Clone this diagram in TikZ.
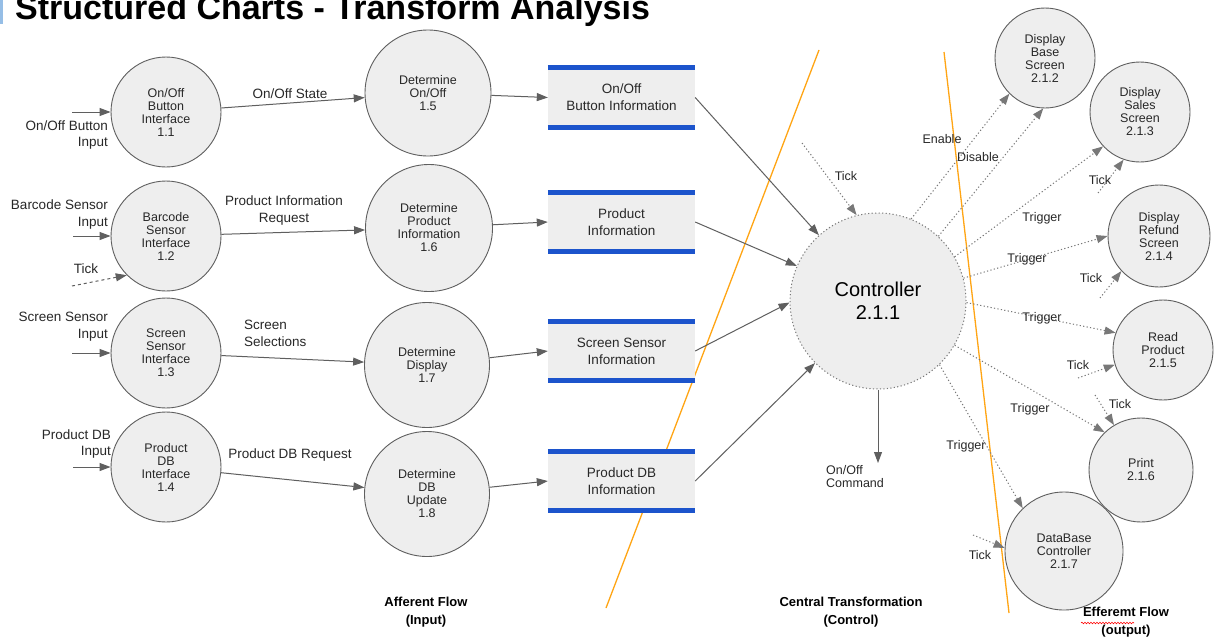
\documentclass[tikz,border=0pt]{standalone}
\usepackage{fontspec}
\setmainfont{Liberation Sans}
\usetikzlibrary{arrows.meta,decorations.pathmorphing}
\definecolor{linegray}{RGB}{95,95,95}
\definecolor{dotgray}{RGB}{120,120,120}
\definecolor{fillgray}{RGB}{238,238,238}
\definecolor{txt}{RGB}{40,40,40}
\definecolor{storeblue}{RGB}{28,84,204}
\definecolor{orangeline}{RGB}{255,165,20}
\definecolor{barblue}{RGB}{150,190,230}
\tikzset{
 proc/.style={circle, draw=linegray, fill=fillgray, line width=0.9pt, inner sep=0pt, align=center, font=\fontsize{12.5}{13}\selectfont, text=txt},
 storebox/.style={rectangle, fill=fillgray, minimum width=147pt, minimum height=59pt, inner sep=0pt, align=center, font=\fontsize{13.5}{17}\selectfont, text=txt},
 storeline/.style={line width=5pt, draw=storeblue},
 flow/.style={draw=linegray, line width=1pt, -{Triangle[length=11pt,width=8pt]}},
 ctl/.style={draw=dotgray, line width=1pt, dash pattern=on 1.2pt off 2.3pt, -{Triangle[length=11pt,width=8pt]}},
 lbl/.style={font=\fontsize{13.5}{16.5}\selectfont, text=txt, inner sep=0pt},
 slbl/.style={font=\fontsize{12.5}{13}\selectfont, text=txt, inner sep=0pt},
 hdr/.style={font=\bfseries\fontsize{13}{18}\selectfont, align=center, inner sep=0pt, text=black},
 border/.style={draw=orangeline, line width=1.3pt}
}
\begin{document}
\begin{tikzpicture}[x=1pt,y=-1pt]
\useasboundingbox (0,0) rectangle (1214,637);
\clip (0,0) rectangle (1214,637);
\fill[white] (0,0) rectangle (1214,637);
% title
\fill[barblue] (0,0) rectangle (2.5,24);
\node[anchor=base west, inner sep=0pt, font=\bfseries\fontsize{34}{40}\selectfont] (title) at (15,19) {Structured Charts - Transform Analysis};

% orange boundaries
\coordinate (o1a) at (819,50); \coordinate (o1b) at (606,608);
\coordinate (o2a) at (944,52); \coordinate (o2b) at (1009,613);
\draw[border] (o1a) -- (o1b);
\draw[border] (o2a) -- (o2b);

% afferent processes
\node[proc, minimum size=110pt] (n11) at (166,112) {On/Off\\Button\\Interface\\1.1};
\node[proc, minimum size=110pt] (n12) at (166,236) {Barcode\\Sensor\\Interface\\1.2};
\node[proc, minimum size=110pt] (n13) at (166,353) {Screen\\Sensor\\Interface\\1.3};
\node[proc, minimum size=110pt] (n14) at (166,467) {Product\\DB\\Interface\\1.4};
\node[proc, minimum size=126pt] (n15) at (428,93) {Determine\\On/Off\\1.5};
\node[proc, minimum size=127pt] (n16) at (429,228) {Determine\\Product\\Information\\1.6};
\node[proc, minimum size=125pt] (n17) at (427,365) {Determine\\Display\\1.7};
\node[proc, minimum size=125pt] (n18) at (427,494) {Determine\\DB\\Update\\1.8};

% stores
\node[storebox] (s1) at (621.5,97.5) {On/Off\\Button Information};
\node[storebox] (s2) at (621.5,222) {Product\\Information};
\node[storebox] (s3) at (621.5,351) {Screen Sensor\\Information};
\node[storebox] (s4) at (621.5,481) {Product DB\\Information};
\foreach \s in {s1,s2,s3,s4}{
  \draw[storeline] (\s.north west) -- (\s.north east);
  \draw[storeline] (\s.south west) -- (\s.south east);
}

% controller
\node[circle, draw=dotgray, fill=fillgray, line width=1pt, dash pattern=on 1.2pt off 2.3pt, minimum size=176pt, inner sep=0pt, align=center, font=\fontsize{20}{23}\selectfont, text=black] (ctrl) at (878,301) {Controller\\2.1.1};

% efferent processes
\node[proc, minimum size=100pt] (n212) at (1045,58) {Display\\Base\\Screen\\2.1.2};
\node[proc, minimum size=100pt] (n213) at (1140,112) {Display\\Sales\\Screen\\2.1.3};
\node[proc, minimum size=102pt] (n214) at (1159,236) {Display\\Refund\\Screen\\2.1.4};
\node[proc, minimum size=100pt] (n215) at (1163,350) {Read\\Product\\2.1.5};
\node[proc, minimum size=104pt] (n216) at (1141,470) {Print\\2.1.6};
\node[proc, minimum size=118pt] (n217) at (1064,551) {DataBase\\Controller\\2.1.7};

% inputs
\coordinate (i1) at (72,112);
\coordinate (i2) at (73,236);
\coordinate (i2t) at (72,286);
\coordinate (i3) at (72,353);
\coordinate (i4) at (73,467);
\draw[flow] (i1) -- (n11);
\draw[flow] (i2) -- (n12);
\draw[flow, dashed] (i2t) -- (n12.225);
\draw[flow] (i3) -- (n13);
\draw[flow] (i4) -- (n14);
\node[lbl, anchor=east, align=right] (l1) at (108,135) {On/Off Button\\Input};
\node[lbl, anchor=east, align=right] (l2) at (108,214.5) {Barcode Sensor\\Input};
\node[lbl] (l2t) at (86,269) {Tick};
\node[lbl, anchor=east, align=right] (l3) at (108,326.5) {Screen Sensor\\Input};
\node[lbl, anchor=east, align=right] (l4) at (111,444) {Product DB\\Input};

% afferent flows
\draw[flow] (n11) -- (n15);
\draw[flow] (n12) -- (n16);
\draw[flow] (n13) -- (n17);
\draw[flow] (n14) -- (n18);
\node[lbl] (e1) at (290,94) {On/Off State};
\node[lbl, align=center] (e2) at (284,210.5) {Product Information\\Request};
\node[lbl, anchor=west, align=left] (e3) at (244,333.5) {Screen\\Selections};
\node[lbl] (e4) at (290,455) {Product DB Request};

\draw[flow] (n15) -- (s1.west);
\draw[flow] (n16) -- (s2.west);
\draw[flow] (n17) -- (s3.west);
\draw[flow] (n18) -- (s4.west);

\draw[flow] (s1.east) -- (ctrl);
\draw[flow] (s2.east) -- (ctrl);
\draw[flow] (s3.east) -- (ctrl.181);
\draw[flow] (s4.east) -- (ctrl);

% control
\coordinate (tk0) at (802,143);
\draw[ctl] (tk0) -- (ctrl.104);
\node[slbl] (t0) at (846,176) {Tick};

\draw[ctl] (ctrl.68) -- (n212.225);
\draw[ctl] (ctrl.47) -- (n212.268);
\draw[ctl] (ctrl.30) -- (n213.223);
\draw[ctl] (ctrl.15) -- (n214.180);
\draw[ctl] (ctrl.-1) -- (n215.160);
\draw[ctl] (ctrl.-30) -- (n216.134);
\draw[ctl] (ctrl.-46) -- (n217.134);
\node[slbl] (en) at (942,139) {Enable};
\node[slbl] (di) at (978,157) {Disable};
\node[slbl] (tr3) at (1042,218) {Trigger};
\node[slbl] (tr4) at (1027,259) {Trigger};
\node[slbl] (tr5) at (1042,318) {Trigger};
\node[slbl] (tr6) at (1030,409) {Trigger};
\node[slbl] (tr7) at (966,446) {Trigger};

\coordinate (tk3) at (1098,193);
\coordinate (tk4) at (1100,298);
\coordinate (tk5) at (1078,378);
\coordinate (tk6) at (1095,395);
\coordinate (tk7) at (973,535);
\draw[ctl] (tk3) -- (n213.251);
\draw[ctl] (tk4) -- (n214.223);
\draw[ctl] (tk5) -- (n215.197);
\draw[ctl] (tk6) -- (n216.121);
\draw[ctl] (tk7) -- (n217.177);
\node[slbl] (tl3) at (1100,180) {Tick};
\node[slbl] (tl4) at (1091,278) {Tick};
\node[slbl] (tl5) at (1078,365) {Tick};
\node[slbl] (tl6) at (1120,404) {Tick};
\node[slbl] (tl7) at (980,555) {Tick};

% on/off command
\coordinate (cmd) at (878,463);
\draw[flow] (ctrl.south) -- (cmd);
\node[slbl, anchor=west, align=left] (cl) at (826,476.5) {On/Off\\Command};

% section headers
\node[hdr] (h1) at (426,612) {Afferent Flow\\(Input)};
\node[hdr] (h2) at (851,612.5) {Central Transformation\\(Control)};
\node[hdr] (h3) at (1126,622.5) {Efferemt Flow\\(output)};
\draw[red, line width=0.6pt, decorate, decoration={snake, amplitude=0.8pt, segment length=3pt}] (1081,623) -- (1134,623);
\end{tikzpicture}
\end{document}
